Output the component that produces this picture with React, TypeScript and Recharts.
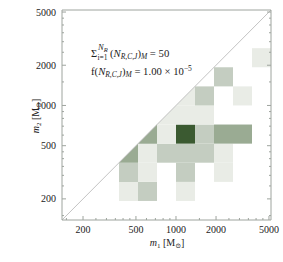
import React from "react";
import {
  ScatterChart,
  Scatter,
  XAxis,
  YAxis,
  ReferenceArea,
  ReferenceLine,
} from "recharts";

// log bin edges in M_sun (1/7 decade wide)
const BIN_EDGES = [139, 193, 268, 373, 518, 720, 1000, 1389, 1931, 2683, 3728, 5179];

// occupied cells: m1 bin, m2 bin, number of runs
const M1_BIN = [3, 4, 6, 3, 4, 6, 8, 3, 4, 5, 6, 7, 8, 4, 5, 6, 7, 8, 9, 5, 6, 7, 6, 7, 9, 8, 10];
const M2_BIN = [1, 1, 1, 2, 2, 2, 2, 3, 3, 3, 3, 3, 3, 4, 4, 4, 4, 4, 4, 5, 5, 5, 6, 6, 6, 7, 8];
const COUNTS = [1, 2, 1, 2, 1, 2, 1, 3, 1, 2, 2, 2, 1, 3, 1, 7, 2, 3, 3, 1, 1, 1, 1, 2, 1, 2, 1];

const MAJOR_TICKS = [200, 500, 1000, 2000, 5000];
const MINOR_TICKS = [150, 250, 300, 350, 400, 450, 600, 700, 800, 900, 1500, 2500, 3000, 3500, 4000, 4500];
const ALL_TICKS = [...MAJOR_TICKS, ...MINOR_TICKS].sort((a, b) => a - b);

const SHADES: Record<number, string> = {
  1: "#e9ece6",
  2: "#c4cdc1",
  3: "#9aab93",
  7: "#3b5a31",
};

const FRAME = "#9ea49e";
const FONT = "'Liberation Serif', 'DejaVu Serif', serif";
const DOMAIN: [number, number] = [BIN_EDGES[0], BIN_EDGES[BIN_EDGES.length - 1]];

const cells = M1_BIN.map((c, i) => ({
  col: c,
  row: M2_BIN[i],
  count: COUNTS[i],
  m1: Math.sqrt(BIN_EDGES[c] * BIN_EDGES[c + 1]),
  m2: Math.sqrt(BIN_EDGES[M2_BIN[i]] * BIN_EDGES[M2_BIN[i] + 1]),
}));

const tickLen = (v: number) => (MAJOR_TICKS.includes(v) ? 4 : 2);

const BottomTick = ({ x, y, payload }: any) => (
  <g>
    <line x1={x} x2={x} y1={y} y2={y - tickLen(payload.value)} stroke={FRAME} />
    {MAJOR_TICKS.includes(payload.value) && (
      <text x={x} y={y + 13} textAnchor="middle" fontSize={10} fill="#222" fontFamily={FONT}>
        {payload.value}
      </text>
    )}
  </g>
);

const TopTick = ({ x, y, payload }: any) => (
  <line x1={x} x2={x} y1={y} y2={y + tickLen(payload.value)} stroke={FRAME} />
);

const LeftTick = ({ x, y, payload }: any) => (
  <g>
    <line x1={x} x2={x + tickLen(payload.value)} y1={y} y2={y} stroke={FRAME} />
    {MAJOR_TICKS.includes(payload.value) && (
      <text x={x - 6} y={y + 3.5} textAnchor="end" fontSize={10} fill="#222" fontFamily={FONT}>
        {payload.value}
      </text>
    )}
  </g>
);

const RightTick = ({ x, y, payload }: any) => (
  <line x1={x} x2={x - tickLen(payload.value)} y1={y} y2={y} stroke={FRAME} />
);

// cells on the diagonal only keep the half below m2 = m1
const Triangle = (props: any) => {
  const { x, y, width, height, fill } = props;
  return <polygon points={`${x},${y + height} ${x + width},${y + height} ${x + width},${y}`} fill={fill} />;
};

export default function App() {
  return (
    <div style={{ position: "absolute", left: 0, top: 0, width: 283, height: 262, background: "#fff" }}>
      <ScatterChart width={283} height={262} margin={{ top: 9, right: 11, left: 0, bottom: 0 }}>
        <XAxis
          xAxisId="b"
          dataKey="m1"
          type="number"
          scale="log"
          domain={DOMAIN}
          allowDataOverflow
          ticks={ALL_TICKS}
          interval={0}
          height={42}
          tickSize={0}
          tickMargin={0}
          tick={<BottomTick />}
          axisLine={{ stroke: FRAME }}
        />
        <XAxis
          xAxisId="t"
          orientation="top"
          type="number"
          scale="log"
          domain={DOMAIN}
          allowDataOverflow
          ticks={ALL_TICKS}
          interval={0}
          height={1}
          tickSize={0}
          tickMargin={0}
          tick={<TopTick />}
          axisLine={{ stroke: FRAME }}
        />
        <YAxis
          yAxisId="l"
          dataKey="m2"
          type="number"
          scale="log"
          domain={DOMAIN}
          allowDataOverflow
          ticks={ALL_TICKS}
          interval={0}
          width={62}
          tickSize={0}
          tickMargin={0}
          tick={<LeftTick />}
          axisLine={{ stroke: FRAME }}
        />
        <YAxis
          yAxisId="r"
          orientation="right"
          type="number"
          scale="log"
          domain={DOMAIN}
          allowDataOverflow
          ticks={ALL_TICKS}
          interval={0}
          width={1}
          tickSize={0}
          tickMargin={0}
          tick={<RightTick />}
          axisLine={{ stroke: FRAME }}
        />
        {cells.map((c, i) => (
          <ReferenceArea
            key={i}
            xAxisId="b"
            yAxisId="l"
            x1={BIN_EDGES[c.col]}
            x2={BIN_EDGES[c.col + 1]}
            y1={BIN_EDGES[c.row]}
            y2={BIN_EDGES[c.row + 1]}
            fill={SHADES[c.count]}
            fillOpacity={1}
            stroke="none"
            ifOverflow="visible"
            shape={c.col === c.row ? Triangle : undefined}
          />
        ))}
        <ReferenceLine
          xAxisId="b"
          yAxisId="l"
          segment={[
            { x: DOMAIN[0], y: DOMAIN[0] },
            { x: DOMAIN[1], y: DOMAIN[1] },
          ]}
          stroke="#b4b4b4"
          strokeWidth={0.8}
          ifOverflow="visible"
        />
        <Scatter
          xAxisId="b"
          yAxisId="l"
          data={cells}
          shape={() => <g />}
          isAnimationActive={false}
        />
      </ScatterChart>
      <svg
        width={283}
        height={262}
        style={{ position: "absolute", left: 0, top: 0, pointerEvents: "none" }}
        fontFamily={FONT}
        fill="#222"
      >
        <text x={91} y={57} fontSize={10.5}>Σ</text>
        <text x={97.5} y={60} fontSize={7.5}>i=1</text>
        <text x={98} y={50} fontSize={8.5} fontStyle="italic">
          N<tspan fontSize={6.5} dy={2}>R</tspan>
        </text>
        <text x={110} y={57} fontSize={10.7}>
          (<tspan fontStyle="italic">N</tspan>
          <tspan fontSize={7.5} fontStyle="italic" dy={2}>R,C,J</tspan>
          <tspan dy={-2}>)</tspan>
          <tspan fontSize={7.5} fontStyle="italic" dy={2}>M</tspan>
          <tspan dy={-2}> = 50</tspan>
        </text>
        <text x={91} y={75} fontSize={10.7}>
          f(<tspan fontStyle="italic">N</tspan>
          <tspan fontSize={7.5} fontStyle="italic" dy={2}>R,C,J</tspan>
          <tspan dy={-2}>)</tspan>
          <tspan fontSize={7.5} fontStyle="italic" dy={2}>M</tspan>
          <tspan dy={-2}> = 1.00 × 10</tspan>
          <tspan fontSize={7.5} dy={-4}>−5</tspan>
        </text>
        <text x={167} y={246} fontSize={10} textAnchor="middle">
          <tspan fontStyle="italic">m</tspan>
          <tspan fontSize={7} dy={2}>1</tspan>
          <tspan dy={-2}> [M</tspan>
          <tspan fontSize={7} dy={2}>⊙</tspan>
          <tspan dy={-2}>]</tspan>
        </text>
        <text x={39} y={116} fontSize={10} textAnchor="middle" transform="rotate(-90 39 116)">
          <tspan fontStyle="italic">m</tspan>
          <tspan fontSize={7} dy={2}>2</tspan>
          <tspan dy={-2}> [M</tspan>
          <tspan fontSize={7} dy={2}>⊙</tspan>
          <tspan dy={-2}>]</tspan>
        </text>
      </svg>
    </div>
  );
}
